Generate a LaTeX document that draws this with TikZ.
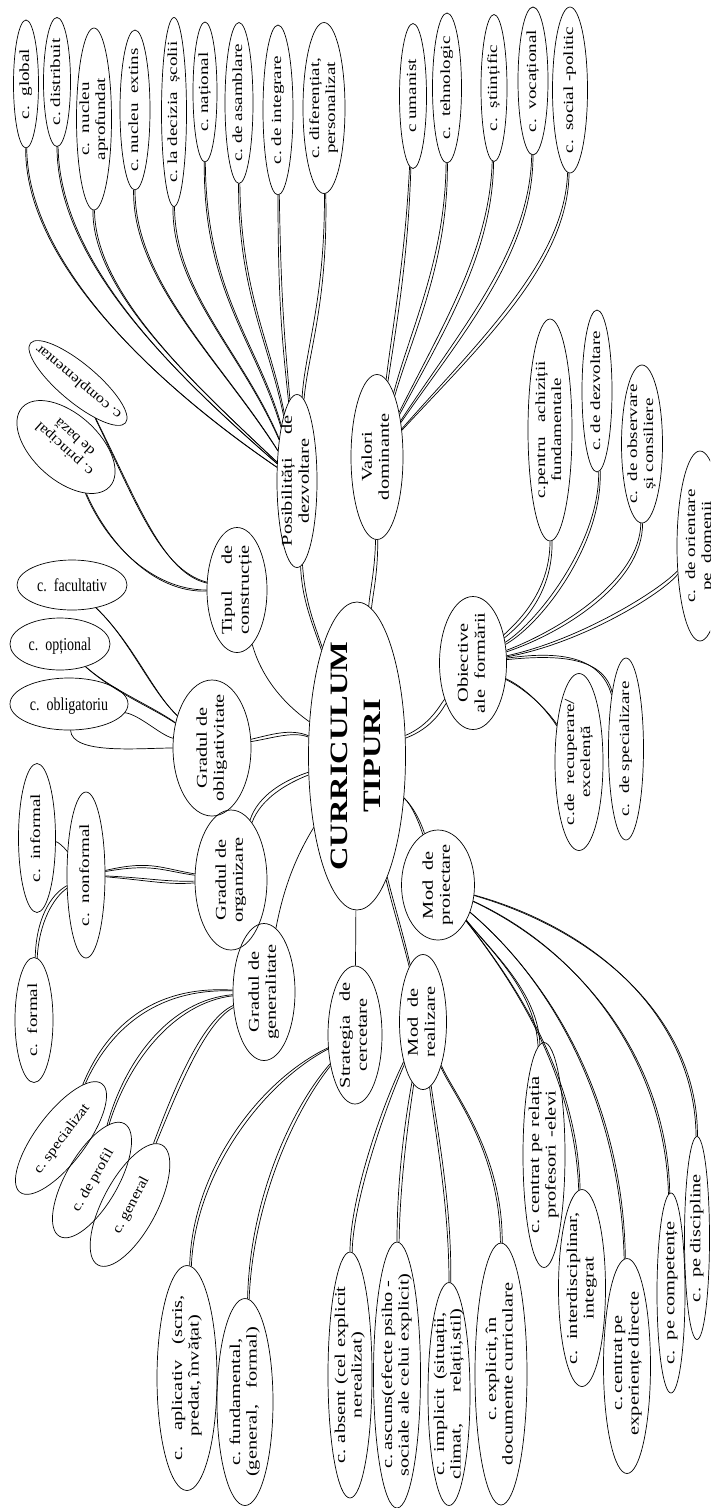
\documentclass[tikz,border=0pt]{standalone}
\usepackage{fontspec}
\setmainfont{Liberation Serif}
\usepackage{graphicx}
\usetikzlibrary{shapes.geometric,calc}
\frenchspacing
\newlength\jlen
\newcommand\zc[1]{\makebox[0pt]{\raisebox{-.5\height}[0pt][0pt]{#1}}}
\newcommand\sx{1.36}
\newcommand\vt[1]{\zc{\rotatebox{90}{\scalebox{\sx}[1]{\begin{tabular}{@{}c@{}}#1\end{tabular}}}}}
\newcommand\vtj[2]{\zc{\rotatebox{90}{\scalebox{\sx}[1]{\settowidth\jlen{#2}\begin{tabular}{@{}c@{}}\makebox[\jlen][s]{#1}\\#2\end{tabular}}}}}
\newcommand\J[2]{\makebox[#1pt][s]{#2}}
\newcommand\hz[1]{\zc{\scalebox{1}[1.3]{#1}}}
\newcommand\dc[4]{\draw (#1) .. controls (#2) and (#3) .. (#4); \draw (#1) .. controls ($(#2)+(3,3)$) and ($(#3)+(3,3)$) .. (#4);}
\tikzset{
  el/.style={ellipse, draw, inner sep=0pt, font=\fontsize{14}{16}\selectfont},
  elb/.style={el, font=\fontsize{15}{16.5}\selectfont},
  cat/.style={el, font=\fontsize{15}{17}\selectfont},
}
\begin{document}
\begin{tikzpicture}[x=1pt,y=-1pt,line width=0.7pt]
\useasboundingbox (0,0) rectangle (710,1508);
\clip (0,0) rectangle (710,1508);
% ---------- top children of Posibilitati
\node[el,minimum width=25,minimum height=128] (glob) at (26,84) {\vt{c.\ \ global}};
\node[el,minimum width=27,minimum height=129] (dist) at (57,82) {\vt{c. distribuit}};
\node[el,minimum width=35,minimum height=182] (nuapr) at (94,119) {\vt{c.\ \ nucleu\\aprofundat}};
\node[el,minimum width=30,minimum height=160] (nuext) at (135,110) {\vt{c. nucleu\ \ extins}};
\node[el,minimum width=25,minimum height=189] (deciz) at (174,112) {\vt{c. la decizia\ \ școlii}};
\node[el,minimum width=24,minimum height=140] (natl) at (205,92) {\vt{c. național}};
\node[el,minimum width=28,minimum height=161] (asam) at (239,103) {\vt{c. de asamblare}};
\node[el,minimum width=30,minimum height=170] (integ) at (278,110) {\vt{c. de integrare}};
\node[el,minimum width=42,minimum height=171] (difer) at (324,108) {\vt{c. diferențiat,\\personalizat}};
% ---------- children of Valori
\node[el,minimum width=27,minimum height=145] (uman) at (413,96) {\vt{c umanist}};
\node[el,minimum width=29,minimum height=150] (tehn) at (447,88) {\vt{c.\ \ tehnologic}};
\node[el,minimum width=26,minimum height=147] (stiin) at (494,88) {\vt{c.\ \ științific}};
\node[el,minimum width=30,minimum height=148] (vocat) at (533,81) {\vt{c.\ \ vocațional}};
\node[el,minimum width=35,minimum height=166] (socp) at (570,90) {\vt{c.\ \ social -politic}};
% ---------- categories
\node[cat,minimum width=40,minimum height=173] (posib) at (297,481) {\vt{\J{96}{Posibilități de}\\dezvoltare}};
\node[cat,minimum width=52,minimum height=165] (valori) at (377,457) {\vt{Valori\\dominante}};
\node[cat,minimum width=60,minimum height=125] (tipul) at (237,590) {\vtj{Tipul de}{construcție}};
\node[cat,minimum width=78,minimum height=136] (oblig) at (212,748) {\vt{Gradul de\\obligativitate}};
\node[cat,minimum width=72,minimum height=140] (org) at (231,880) {\vt{Gradul de\\organizare}};
\node[cat,minimum width=62,minimum height=137] (gen) at (264,992) {\vt{Gradul de\\generalitate}};
\node[cat,minimum width=54,minimum height=138] (strat) at (355,1035) {\vt{\J{78}{Strategia de}\\cercetare}};
\node[cat,minimum width=47,minimum height=135] (real) at (423,1022) {\vt{Mod\ \ de\\realizare}};
\node[cat,minimum width=73,minimum height=110] (proi) at (438,885) {\vt{Mod\ \ de\\proiectare}};
\node[cat,minimum width=67,minimum height=133] (obj) at (473,663) {\vt{Obiective\\ale\ \ formării}};
% ---------- center
\node[el,minimum width=97,minimum height=308] (curr) at (357,756)
  {\zc{\rotatebox{90}{\scalebox{1.3}[1]{\fontsize{25}{33}\selectfont\bfseries\begin{tabular}{@{}c@{}}CURRICULUM\\TIPURI\end{tabular}}}}};
% ---------- Tipul children
\node[el,rotate=140,minimum width=124,minimum height=38] (compl) at (78,383) {\zc{\scalebox{1.15}[1]{c. complementar}}};
\node[el,rotate=138,minimum width=118,minimum height=66] (princ) at (66,447) {\zc{\scalebox{1.15}[1]{\begin{tabular}{@{}c@{}}c. principal\\de bază\end{tabular}}}};
% ---------- Obligativitate children
\node[el,minimum width=110,minimum height=50] (facult) at (72,585) {\hz{c.\ \ facultativ}};
\node[el,minimum width=100,minimum height=52] (optio) at (60,644) {\hz{c.\ \ opțional}};
\node[el,minimum width=118,minimum height=52] (oblg) at (69,704) {\hz{c.\ \ obligatoriu}};
% ---------- Obiective children
\node[el,minimum width=44,minimum height=222] (achiz) at (550,430) {\vt{c.pentru\ \ \ achiziții\\fundamentale}};
\node[el,minimum width=30,minimum height=162] (dezv) at (597,391) {\vt{c. de dezvoltare}};
\node[el,minimum width=41,minimum height=158] (obs) at (642,444) {\vt{c.\ \ de observare\\și consiliere}};
\node[el,minimum width=46,minimum height=190] (orient) at (700,546) {\vt{c.\ \ de orientare\\pe\ \ domenii}};
\node[el,minimum width=48,minimum height=177] (recup) at (579,762) {\vt{c.de\ \ recuperare/\\excelență}};
\node[el,minimum width=35,minimum height=182] (spz) at (626,749) {\vt{c.\ \ de specializare}};
% ---------- Organizare children
\node[el,minimum width=37,minimum height=149] (inf) at (37,838) {\vt{c.\ \ informal}};
\node[el,minimum width=38,minimum height=166] (nonf) at (86,875) {\vt{c.\ \ nonformal}};
\node[el,minimum width=38,minimum height=125] (form) at (34,1020) {\vt{c.\ \ formal}};
% ---------- Generalitate children
\node[el,rotate=53,minimum width=136,minimum height=50] (spec) at (61,1138) {\zc{\scalebox{1.15}[1]{c. specializat}}};
\node[el,rotate=60,minimum width=130,minimum height=52] (prof) at (92,1180) {\zc{\scalebox{1.15}[1]{c. de profil}}};
\node[el,rotate=62,minimum width=136,minimum height=54] (genl) at (130,1205) {\zc{\scalebox{1.15}[1]{c. general}}};
% ---------- Strategia children
\node[elb,minimum width=60,minimum height=225] (apl) at (187,1378) {\vt{\J{122}{c. aplicativ (scris,}\\\J{86}{predat, învățat)}}};
\node[elb,minimum width=56,minimum height=207] (fund) at (245,1402) {\vt{c. fundamental,\\\J{110}{(general, formal)}}};
% ---------- Realizare children
\node[elb,minimum width=44,minimum height=246] (abs) at (350,1375) {\vt{\J{130}{c. absent (cel explicit}\\nerealizat)}};
\node[elb,minimum width=47,minimum height=266] (asc) at (397,1375) {\vt{\J{138}{c. ascuns(efecte psiho -}\\sociale ale celui explicit)}};
\node[elb,minimum width=42,minimum height=223] (impl) at (449,1394) {\vt{\J{120}{c. implicit (situații,}\\\J{126}{climat, relații,stil)}}};
\node[elb,minimum width=52,minimum height=262] (expl) at (501,1374) {\vt{\J{68}{c. explicit, în}\\\J{134}{documente curriculare}}};
% ---------- Proiectare children
\node[elb,minimum width=42,minimum height=225] (rel) at (544,1155) {\vt{\J{116}{c. centrat pe relația}\\\J{94}{profesori -elevi}}};
\node[elb,minimum width=47,minimum height=197] (interd) at (582,1288) {\vt{c.\ \ interdisciplinar,\\integrat}};
\node[elb,minimum width=47,minimum height=215] (exper) at (627,1366) {\vt{\J{66}{c. centrat pe}\\\J{102}{experiențe directe}}};
\node[elb,minimum width=28,minimum height=200] (comp) at (671,1293) {\vt{c.\ \ pe competențe}};
\node[elb,minimum width=25,minimum height=203] (disc) at (697,1238) {\vt{c.\ \ pe discipline}};
% ================= connectors
% centre
\dc{posib}{302,600}{312,622}{curr}
\dc{valori}{375,570}{370,590}{curr}
\draw (tipul) .. controls (265,690) and (300,715) .. (curr);
\dc{oblig}{270,735}{290,728}{curr}
\dc{org}{258,795}{285,780}{curr}
\draw (gen) .. controls (285,880) and (300,850) .. (curr);
\draw (curr) -- (strat);
\dc{real}{400,930}{392,905}{curr}
\dc{proi}{420,825}{412,805}{curr}
\dc{curr}{430,725}{440,705}{obj}
% Posibilitati
\dc{glob}{25,260}{150,380}{posib}
\dc{dist}{57,260}{170,370}{posib}
\dc{nuapr}{92,290}{190,380}{posib}
\dc{nuext}{132,280}{220,360}{posib}
\dc{deciz}{172,290}{240,350}{posib}
\dc{natl}{203,290}{255,340}{posib}
\dc{asam}{238,290}{268,340}{posib}
\dc{integ}{278,300}{282,340}{posib}
\dc{difer}{325,300}{305,350}{posib}
% Valori
\dc{uman}{405,260}{392,330}{valori}
\dc{tehn}{445,260}{410,330}{valori}
\dc{stiin}{490,250}{440,330}{valori}
\dc{vocat}{530,250}{460,330}{valori}
\dc{socp}{565,260}{480,340}{valori}
% Tipul
\dc{compl}{135,500}{160,570}{tipul}
\dc{princ}{105,540}{150,590}{tipul}
% Obligativitate
\dc{facult}{130,640}{150,690}{oblig}
\dc{optio}{112,690}{150,705}{oblig}
\draw (oblg) .. controls (72,755) and (140,748) .. (oblig);
\draw (oblg) .. controls (140,715) and (160,735) .. (oblig);
% Obiective
\dc{obj}{520,620}{550,590}{achiz}
\dc{obj}{540,620}{600,540}{dezv}
\dc{obj}{560,630}{640,580}{obs}
\dc{obj}{580,640}{660,590}{orient}
\dc{obj}{550,652}{600,652}{spz}
\dc{obj}{530,690}{550,715}{recup}
% Organizare
\dc{nonf}{150,860}{160,868}{org}
\dc{nonf}{150,878}{165,882}{org}
\draw (inf) .. controls (58,842) and (63,846) .. (nonf);
\dc{form}{36,920}{50,895}{nonf}
% Generalitate
\dc{gen}{150,985}{105,1030}{spec}
\dc{gen}{170,1000}{125,1060}{prof}
\dc{gen}{200,1020}{170,1100}{genl}
% Strategia
\dc{strat}{260,1080}{192,1170}{apl}
\dc{strat}{290,1110}{250,1200}{fund}
% Realizare
\dc{real}{380,1110}{350,1200}{abs}
\dc{real}{405,1120}{397,1180}{asc}
\dc{real}{433,1120}{449,1200}{impl}
\dc{real}{450,1090}{500,1150}{expl}
% Proiectare
\dc{proi}{600,930}{695,1020}{disc}
\dc{proi}{580,950}{665,1060}{comp}
\dc{proi}{550,980}{620,1100}{exper}
\dc{proi}{520,990}{575,1080}{interd}
\dc{proi}{490,950}{535,990}{rel}
\end{tikzpicture}
\end{document}
